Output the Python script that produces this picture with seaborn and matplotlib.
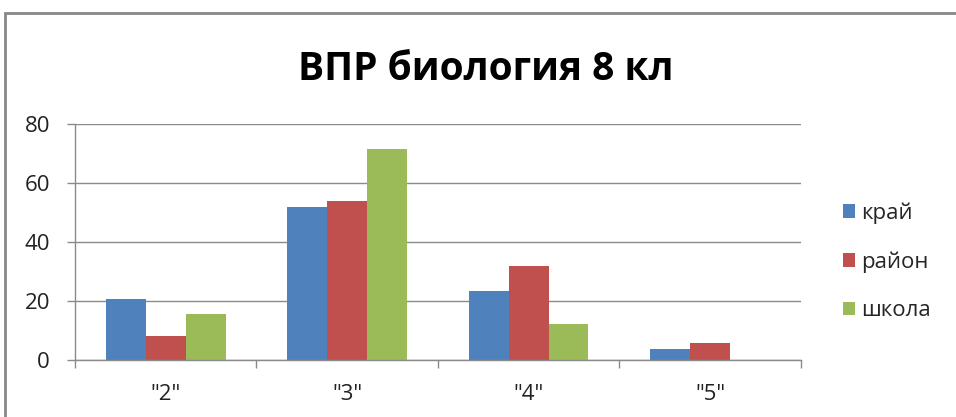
import pandas as pd
import seaborn as sns
import matplotlib.pyplot as plt
from matplotlib.patches import Rectangle

grades = ['"2"', '"3"', '"4"', '"5"']
kray = [20.8, 51.8, 23.3, 3.6]
rayon = [8.3, 54.0, 32.0, 5.7]
shkola = [15.6, 71.5, 12.1, 0.0]
series = ['край', 'район', 'школа']
colors = ['#4F81BD', '#C0504D', '#9BBB59']

rows = []
for name, vals in zip(series, [kray, rayon, shkola]):
    for g, v in zip(grades, vals):
        rows.append({'grade': g, 'series': name, 'value': v})
data = pd.DataFrame(rows)

sns.set_theme(style="white")
plt.rcParams['font.family'] = ['Open Sans', 'DejaVu Sans']

fig = plt.figure(figsize=(9.56, 4.17), dpi=100)
ax = fig.add_axes([0.0785, 0.1367, 0.7591, 0.5653])

sns.barplot(data=data, x='grade', y='value', hue='series', palette=colors,
            width=0.66, gap=0, saturation=1, linewidth=0, ax=ax, legend=True)

ax.set_xlim(-0.5, 3.5)
ax.set_ylim(0, 80)
ax.set_yticks([0, 20, 40, 60, 80])
ax.yaxis.grid(True, color='#8a8a8a', linewidth=1)
ax.set_axisbelow(True)
ax.set_xlabel('')
ax.set_ylabel('')

# ticks between categories, like the spreadsheet chart
ax.set_xticks([-0.5, 0.5, 1.5, 2.5, 3.5], minor=True)
ax.tick_params(axis='x', which='major', length=0, pad=17, labelsize=16, labelcolor='#222222')
ax.tick_params(axis='x', which='minor', length=6, color='#8a8a8a', width=1, bottom=True)
ax.tick_params(axis='y', length=6, color='#8a8a8a', width=1, left=True, labelsize=16,
               labelcolor='#222222', pad=12)

for side in ['top', 'right']:
    ax.spines[side].set_visible(False)
for side in ['left', 'bottom']:
    ax.spines[side].set_color('#8a8a8a')
    ax.spines[side].set_linewidth(1)

ax.legend(loc='center left', bbox_to_anchor=(0.8815, 0.372), bbox_transform=fig.transFigure,
          frameon=False, fontsize=16, handlelength=0.56, handleheight=0.56,
          handletextpad=0.25, labelspacing=1.24, borderpad=0, borderaxespad=0)

fig.text(0.508, 0.808, 'ВПР биология 8 кл', ha='center', va='baseline',
         fontsize=28, fontweight='bold', color='black')

# outer chart frame
fig.patches.append(Rectangle((0.005, -0.2), 1.2, 1.169, transform=fig.transFigure,
                             fill=False, edgecolor='#888888', linewidth=2))

fig.savefig('out.png', dpi=100)
